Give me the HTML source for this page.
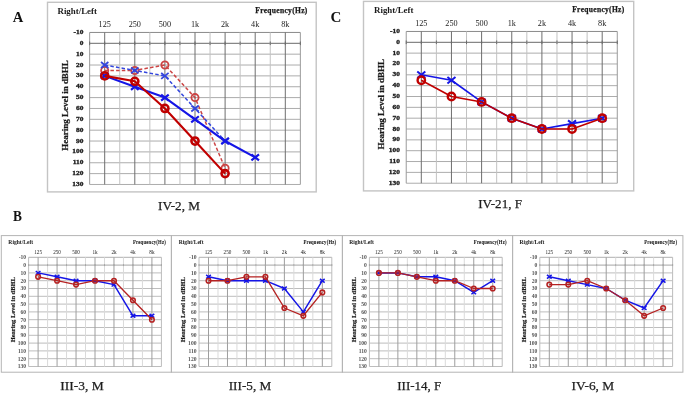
<!DOCTYPE html>
<html><head><meta charset="utf-8"><style>
html,body{margin:0;padding:0;background:#fff;}
body{width:685px;height:394px;overflow:hidden;}
svg{display:block;font-family:"Liberation Serif", serif;filter:blur(0.4px);}
</style></head><body>
<svg width="685" height="394" viewBox="0 0 685 394">
<rect width="685" height="394" fill="#fff"/>
<rect x="47.5" y="2.3" width="268.7" height="189.6" fill="none" stroke="#c4c4c4" stroke-width="1.4"/>
<line x1="89.65" y1="32.44" x2="300.35" y2="32.44" stroke="#8a8a8a" stroke-width="1"/>
<line x1="89.65" y1="43.3" x2="300.35" y2="43.3" stroke="#6a6a6a" stroke-width="1"/>
<line x1="89.65" y1="54.16" x2="300.35" y2="54.16" stroke="#acacac" stroke-width="1"/>
<line x1="89.65" y1="65.02" x2="300.35" y2="65.02" stroke="#acacac" stroke-width="1"/>
<line x1="89.65" y1="75.88" x2="300.35" y2="75.88" stroke="#acacac" stroke-width="1"/>
<line x1="89.65" y1="86.74" x2="300.35" y2="86.74" stroke="#acacac" stroke-width="1"/>
<line x1="89.65" y1="97.6" x2="300.35" y2="97.6" stroke="#acacac" stroke-width="1"/>
<line x1="89.65" y1="108.46" x2="300.35" y2="108.46" stroke="#acacac" stroke-width="1"/>
<line x1="89.65" y1="119.32" x2="300.35" y2="119.32" stroke="#acacac" stroke-width="1"/>
<line x1="89.65" y1="130.18" x2="300.35" y2="130.18" stroke="#acacac" stroke-width="1"/>
<line x1="89.65" y1="141.04" x2="300.35" y2="141.04" stroke="#acacac" stroke-width="1"/>
<line x1="89.65" y1="151.9" x2="300.35" y2="151.9" stroke="#acacac" stroke-width="1"/>
<line x1="89.65" y1="162.76" x2="300.35" y2="162.76" stroke="#acacac" stroke-width="1"/>
<line x1="89.65" y1="173.62" x2="300.35" y2="173.62" stroke="#acacac" stroke-width="1"/>
<line x1="89.65" y1="184.48" x2="300.35" y2="184.48" stroke="#acacac" stroke-width="1"/>
<line x1="89.65" y1="32.44" x2="89.65" y2="184.48" stroke="#9a9a9a" stroke-width="1"/>
<line x1="89.65" y1="41.5" x2="89.65" y2="45.1" stroke="#6a6a6a" stroke-width="1"/>
<line x1="104.7" y1="32.44" x2="104.7" y2="184.48" stroke="#6e6e6e" stroke-width="1"/>
<line x1="104.7" y1="41.5" x2="104.7" y2="45.1" stroke="#6a6a6a" stroke-width="1"/>
<line x1="119.75" y1="32.44" x2="119.75" y2="184.48" stroke="#c2c2c2" stroke-width="1"/>
<line x1="119.75" y1="41.5" x2="119.75" y2="45.1" stroke="#6a6a6a" stroke-width="1"/>
<line x1="134.8" y1="32.44" x2="134.8" y2="184.48" stroke="#6e6e6e" stroke-width="1"/>
<line x1="134.8" y1="41.5" x2="134.8" y2="45.1" stroke="#6a6a6a" stroke-width="1"/>
<line x1="149.85" y1="32.44" x2="149.85" y2="184.48" stroke="#c2c2c2" stroke-width="1"/>
<line x1="149.85" y1="41.5" x2="149.85" y2="45.1" stroke="#6a6a6a" stroke-width="1"/>
<line x1="164.9" y1="32.44" x2="164.9" y2="184.48" stroke="#6e6e6e" stroke-width="1"/>
<line x1="164.9" y1="41.5" x2="164.9" y2="45.1" stroke="#6a6a6a" stroke-width="1"/>
<line x1="179.95" y1="32.44" x2="179.95" y2="184.48" stroke="#c2c2c2" stroke-width="1"/>
<line x1="179.95" y1="41.5" x2="179.95" y2="45.1" stroke="#6a6a6a" stroke-width="1"/>
<line x1="195" y1="32.44" x2="195" y2="184.48" stroke="#6e6e6e" stroke-width="1"/>
<line x1="195" y1="41.5" x2="195" y2="45.1" stroke="#6a6a6a" stroke-width="1"/>
<line x1="210.05" y1="32.44" x2="210.05" y2="184.48" stroke="#c2c2c2" stroke-width="1"/>
<line x1="210.05" y1="41.5" x2="210.05" y2="45.1" stroke="#6a6a6a" stroke-width="1"/>
<line x1="225.1" y1="32.44" x2="225.1" y2="184.48" stroke="#6e6e6e" stroke-width="1"/>
<line x1="225.1" y1="41.5" x2="225.1" y2="45.1" stroke="#6a6a6a" stroke-width="1"/>
<line x1="240.15" y1="32.44" x2="240.15" y2="184.48" stroke="#c2c2c2" stroke-width="1"/>
<line x1="240.15" y1="41.5" x2="240.15" y2="45.1" stroke="#6a6a6a" stroke-width="1"/>
<line x1="255.2" y1="32.44" x2="255.2" y2="184.48" stroke="#6e6e6e" stroke-width="1"/>
<line x1="255.2" y1="41.5" x2="255.2" y2="45.1" stroke="#6a6a6a" stroke-width="1"/>
<line x1="270.25" y1="32.44" x2="270.25" y2="184.48" stroke="#c2c2c2" stroke-width="1"/>
<line x1="270.25" y1="41.5" x2="270.25" y2="45.1" stroke="#6a6a6a" stroke-width="1"/>
<line x1="285.3" y1="32.44" x2="285.3" y2="184.48" stroke="#6e6e6e" stroke-width="1"/>
<line x1="285.3" y1="41.5" x2="285.3" y2="45.1" stroke="#6a6a6a" stroke-width="1"/>
<line x1="300.35" y1="32.44" x2="300.35" y2="184.48" stroke="#9a9a9a" stroke-width="1"/>
<line x1="300.35" y1="41.5" x2="300.35" y2="45.1" stroke="#6a6a6a" stroke-width="1"/>
<text x="0" y="0" font-size="8" font-weight="bold" textLength="39.4" lengthAdjust="spacingAndGlyphs" transform="translate(57.5 13.76) scale(1 1)" fill="#1a1a1a">Right/Left</text>
<text x="0" y="0" font-size="7.5" font-weight="bold" text-anchor="end" textLength="52" lengthAdjust="spacing" transform="translate(307.27 13.33) scale(1 1)" fill="#1a1a1a" stroke="#1a1a1a" stroke-width="0.25">Frequency(Hz)</text>
<text x="0" y="0" font-size="8.2" text-anchor="middle" transform="translate(104.7 27.23) scale(1 1)" fill="#222">125</text>
<text x="0" y="0" font-size="8.2" text-anchor="middle" transform="translate(134.8 27.23) scale(1 1)" fill="#222">250</text>
<text x="0" y="0" font-size="8.2" text-anchor="middle" transform="translate(164.9 27.23) scale(1 1)" fill="#222">500</text>
<text x="0" y="0" font-size="8.2" text-anchor="middle" transform="translate(195 27.23) scale(1 1)" fill="#222">1k</text>
<text x="0" y="0" font-size="8.2" text-anchor="middle" transform="translate(225.1 27.23) scale(1 1)" fill="#222">2k</text>
<text x="0" y="0" font-size="8.2" text-anchor="middle" transform="translate(255.2 27.23) scale(1 1)" fill="#222">4k</text>
<text x="0" y="0" font-size="8.2" text-anchor="middle" transform="translate(285.3 27.23) scale(1 1)" fill="#222">8k</text>
<g transform="translate(83.45 33.94) scale(1 1)"><text x="0" y="0" font-size="6.2" font-weight="bold" text-anchor="end" transform="scale(1.2 1)" fill="#1a1a1a" stroke="#1a1a1a" stroke-width="0.3">-10</text></g>
<g transform="translate(83.45 44.8) scale(1 1)"><text x="0" y="0" font-size="6.2" font-weight="bold" text-anchor="end" transform="scale(1.2 1)" fill="#1a1a1a" stroke="#1a1a1a" stroke-width="0.3">0</text></g>
<g transform="translate(83.45 55.66) scale(1 1)"><text x="0" y="0" font-size="6.2" font-weight="bold" text-anchor="end" transform="scale(1.2 1)" fill="#1a1a1a" stroke="#1a1a1a" stroke-width="0.3">10</text></g>
<g transform="translate(83.45 66.52) scale(1 1)"><text x="0" y="0" font-size="6.2" font-weight="bold" text-anchor="end" transform="scale(1.2 1)" fill="#1a1a1a" stroke="#1a1a1a" stroke-width="0.3">20</text></g>
<g transform="translate(83.45 77.38) scale(1 1)"><text x="0" y="0" font-size="6.2" font-weight="bold" text-anchor="end" transform="scale(1.2 1)" fill="#1a1a1a" stroke="#1a1a1a" stroke-width="0.3">30</text></g>
<g transform="translate(83.45 88.24) scale(1 1)"><text x="0" y="0" font-size="6.2" font-weight="bold" text-anchor="end" transform="scale(1.2 1)" fill="#1a1a1a" stroke="#1a1a1a" stroke-width="0.3">40</text></g>
<g transform="translate(83.45 99.1) scale(1 1)"><text x="0" y="0" font-size="6.2" font-weight="bold" text-anchor="end" transform="scale(1.2 1)" fill="#1a1a1a" stroke="#1a1a1a" stroke-width="0.3">50</text></g>
<g transform="translate(83.45 109.96) scale(1 1)"><text x="0" y="0" font-size="6.2" font-weight="bold" text-anchor="end" transform="scale(1.2 1)" fill="#1a1a1a" stroke="#1a1a1a" stroke-width="0.3">60</text></g>
<g transform="translate(83.45 120.82) scale(1 1)"><text x="0" y="0" font-size="6.2" font-weight="bold" text-anchor="end" transform="scale(1.2 1)" fill="#1a1a1a" stroke="#1a1a1a" stroke-width="0.3">70</text></g>
<g transform="translate(83.45 131.68) scale(1 1)"><text x="0" y="0" font-size="6.2" font-weight="bold" text-anchor="end" transform="scale(1.2 1)" fill="#1a1a1a" stroke="#1a1a1a" stroke-width="0.3">80</text></g>
<g transform="translate(83.45 142.54) scale(1 1)"><text x="0" y="0" font-size="6.2" font-weight="bold" text-anchor="end" transform="scale(1.2 1)" fill="#1a1a1a" stroke="#1a1a1a" stroke-width="0.3">90</text></g>
<g transform="translate(83.45 153.4) scale(1 1)"><text x="0" y="0" font-size="6.2" font-weight="bold" text-anchor="end" transform="scale(1.2 1)" fill="#1a1a1a" stroke="#1a1a1a" stroke-width="0.3">100</text></g>
<g transform="translate(83.45 164.26) scale(1 1)"><text x="0" y="0" font-size="6.2" font-weight="bold" text-anchor="end" transform="scale(1.2 1)" fill="#1a1a1a" stroke="#1a1a1a" stroke-width="0.3">110</text></g>
<g transform="translate(83.45 175.12) scale(1 1)"><text x="0" y="0" font-size="6.2" font-weight="bold" text-anchor="end" transform="scale(1.2 1)" fill="#1a1a1a" stroke="#1a1a1a" stroke-width="0.3">120</text></g>
<g transform="translate(83.45 185.98) scale(1 1)"><text x="0" y="0" font-size="6.2" font-weight="bold" text-anchor="end" transform="scale(1.2 1)" fill="#1a1a1a" stroke="#1a1a1a" stroke-width="0.3">130</text></g>
<text x="0" y="0" font-size="9" font-weight="bold" text-anchor="middle" textLength="90.5" lengthAdjust="spacingAndGlyphs" transform="translate(67.77 105.42) scale(1 1) rotate(-90)" fill="#1a1a1a" stroke="#1a1a1a" stroke-width="0.25">Hearing Level in dBHL</text>
<polyline points="104.7,70.45 134.8,70.45 164.9,65.02 195,97.6 225.1,168.19" fill="none" stroke="#cc4444" stroke-width="1.5" stroke-linejoin="round" stroke-dasharray="3.5 2.2"/>
<circle cx="104.7" cy="70.45" r="3.6" fill="none" stroke="#cc4444" stroke-width="1.8"/>
<circle cx="134.8" cy="70.45" r="3.6" fill="none" stroke="#cc4444" stroke-width="1.8"/>
<circle cx="164.9" cy="65.02" r="3.6" fill="none" stroke="#cc4444" stroke-width="1.8"/>
<circle cx="195" cy="97.6" r="3.6" fill="none" stroke="#cc4444" stroke-width="1.8"/>
<circle cx="225.1" cy="168.19" r="3.6" fill="none" stroke="#cc4444" stroke-width="1.8"/>
<polyline points="104.7,65.02 134.8,70.45 164.9,75.88 195,108.46 225.1,141.04" fill="none" stroke="#3346dd" stroke-width="1.5" stroke-linejoin="round" stroke-dasharray="3.5 2.2"/>
<path d="M101 62.05L108.4 67.99M101 67.99L108.4 62.05" stroke="#3346dd" stroke-width="1.8" fill="none"/>
<path d="M131.1 67.48L138.5 73.42M131.1 73.42L138.5 67.48" stroke="#3346dd" stroke-width="1.8" fill="none"/>
<path d="M161.2 72.91L168.6 78.85M161.2 78.85L168.6 72.91" stroke="#3346dd" stroke-width="1.8" fill="none"/>
<path d="M191.3 105.49L198.7 111.43M191.3 111.43L198.7 105.49" stroke="#3346dd" stroke-width="1.8" fill="none"/>
<path d="M221.4 138.07L228.8 144.01M221.4 144.01L228.8 138.07" stroke="#3346dd" stroke-width="1.8" fill="none"/>
<polyline points="104.7,75.88 134.8,86.74 164.9,97.6 195,119.32 225.1,141.04 255.2,157.33" fill="none" stroke="#1515e6" stroke-width="2.1" stroke-linejoin="round"/>
<path d="M100.89 72.82L108.51 78.94M100.89 78.94L108.51 72.82" stroke="#1515e6" stroke-width="2.2" fill="none"/>
<path d="M130.99 83.68L138.61 89.8M130.99 89.8L138.61 83.68" stroke="#1515e6" stroke-width="2.2" fill="none"/>
<path d="M161.09 94.54L168.71 100.66M161.09 100.66L168.71 94.54" stroke="#1515e6" stroke-width="2.2" fill="none"/>
<path d="M191.19 116.26L198.81 122.38M191.19 122.38L198.81 116.26" stroke="#1515e6" stroke-width="2.2" fill="none"/>
<path d="M221.29 137.98L228.91 144.1M221.29 144.1L228.91 137.98" stroke="#1515e6" stroke-width="2.2" fill="none"/>
<path d="M251.39 154.27L259.01 160.39M251.39 160.39L259.01 154.27" stroke="#1515e6" stroke-width="2.2" fill="none"/>
<polyline points="104.7,75.88 134.8,81.31 164.9,108.46 195,141.04 225.1,173.62" fill="none" stroke="#c00000" stroke-width="2.1" stroke-linejoin="round"/>
<circle cx="104.7" cy="75.88" r="3.6" fill="none" stroke="#c00000" stroke-width="2.5"/>
<circle cx="134.8" cy="81.31" r="3.6" fill="none" stroke="#c00000" stroke-width="2.5"/>
<circle cx="164.9" cy="108.46" r="3.6" fill="none" stroke="#c00000" stroke-width="2.5"/>
<circle cx="195" cy="141.04" r="3.6" fill="none" stroke="#c00000" stroke-width="2.5"/>
<circle cx="225.1" cy="173.62" r="3.6" fill="none" stroke="#c00000" stroke-width="2.5"/>
<rect x="363.5" y="1.4" width="270.2" height="189.5" fill="none" stroke="#c4c4c4" stroke-width="1.4"/>
<line x1="406.23" y1="31.46" x2="617.27" y2="31.46" stroke="#8a8a8a" stroke-width="1"/>
<line x1="406.23" y1="42.3" x2="617.27" y2="42.3" stroke="#6a6a6a" stroke-width="1"/>
<line x1="406.23" y1="53.14" x2="617.27" y2="53.14" stroke="#acacac" stroke-width="1"/>
<line x1="406.23" y1="63.98" x2="617.27" y2="63.98" stroke="#acacac" stroke-width="1"/>
<line x1="406.23" y1="74.82" x2="617.27" y2="74.82" stroke="#acacac" stroke-width="1"/>
<line x1="406.23" y1="85.66" x2="617.27" y2="85.66" stroke="#acacac" stroke-width="1"/>
<line x1="406.23" y1="96.5" x2="617.27" y2="96.5" stroke="#acacac" stroke-width="1"/>
<line x1="406.23" y1="107.34" x2="617.27" y2="107.34" stroke="#acacac" stroke-width="1"/>
<line x1="406.23" y1="118.18" x2="617.27" y2="118.18" stroke="#acacac" stroke-width="1"/>
<line x1="406.23" y1="129.02" x2="617.27" y2="129.02" stroke="#acacac" stroke-width="1"/>
<line x1="406.23" y1="139.86" x2="617.27" y2="139.86" stroke="#acacac" stroke-width="1"/>
<line x1="406.23" y1="150.7" x2="617.27" y2="150.7" stroke="#acacac" stroke-width="1"/>
<line x1="406.23" y1="161.54" x2="617.27" y2="161.54" stroke="#acacac" stroke-width="1"/>
<line x1="406.23" y1="172.38" x2="617.27" y2="172.38" stroke="#acacac" stroke-width="1"/>
<line x1="406.23" y1="183.22" x2="617.27" y2="183.22" stroke="#acacac" stroke-width="1"/>
<line x1="406.23" y1="31.46" x2="406.23" y2="183.22" stroke="#9a9a9a" stroke-width="1"/>
<line x1="406.23" y1="40.5" x2="406.23" y2="44.1" stroke="#6a6a6a" stroke-width="1"/>
<line x1="421.3" y1="31.46" x2="421.3" y2="183.22" stroke="#6e6e6e" stroke-width="1"/>
<line x1="421.3" y1="40.5" x2="421.3" y2="44.1" stroke="#6a6a6a" stroke-width="1"/>
<line x1="436.38" y1="31.46" x2="436.38" y2="183.22" stroke="#c2c2c2" stroke-width="1"/>
<line x1="436.38" y1="40.5" x2="436.38" y2="44.1" stroke="#6a6a6a" stroke-width="1"/>
<line x1="451.45" y1="31.46" x2="451.45" y2="183.22" stroke="#6e6e6e" stroke-width="1"/>
<line x1="451.45" y1="40.5" x2="451.45" y2="44.1" stroke="#6a6a6a" stroke-width="1"/>
<line x1="466.52" y1="31.46" x2="466.52" y2="183.22" stroke="#c2c2c2" stroke-width="1"/>
<line x1="466.52" y1="40.5" x2="466.52" y2="44.1" stroke="#6a6a6a" stroke-width="1"/>
<line x1="481.6" y1="31.46" x2="481.6" y2="183.22" stroke="#6e6e6e" stroke-width="1"/>
<line x1="481.6" y1="40.5" x2="481.6" y2="44.1" stroke="#6a6a6a" stroke-width="1"/>
<line x1="496.68" y1="31.46" x2="496.68" y2="183.22" stroke="#c2c2c2" stroke-width="1"/>
<line x1="496.68" y1="40.5" x2="496.68" y2="44.1" stroke="#6a6a6a" stroke-width="1"/>
<line x1="511.75" y1="31.46" x2="511.75" y2="183.22" stroke="#6e6e6e" stroke-width="1"/>
<line x1="511.75" y1="40.5" x2="511.75" y2="44.1" stroke="#6a6a6a" stroke-width="1"/>
<line x1="526.83" y1="31.46" x2="526.83" y2="183.22" stroke="#c2c2c2" stroke-width="1"/>
<line x1="526.83" y1="40.5" x2="526.83" y2="44.1" stroke="#6a6a6a" stroke-width="1"/>
<line x1="541.9" y1="31.46" x2="541.9" y2="183.22" stroke="#6e6e6e" stroke-width="1"/>
<line x1="541.9" y1="40.5" x2="541.9" y2="44.1" stroke="#6a6a6a" stroke-width="1"/>
<line x1="556.98" y1="31.46" x2="556.98" y2="183.22" stroke="#c2c2c2" stroke-width="1"/>
<line x1="556.98" y1="40.5" x2="556.98" y2="44.1" stroke="#6a6a6a" stroke-width="1"/>
<line x1="572.05" y1="31.46" x2="572.05" y2="183.22" stroke="#6e6e6e" stroke-width="1"/>
<line x1="572.05" y1="40.5" x2="572.05" y2="44.1" stroke="#6a6a6a" stroke-width="1"/>
<line x1="587.12" y1="31.46" x2="587.12" y2="183.22" stroke="#c2c2c2" stroke-width="1"/>
<line x1="587.12" y1="40.5" x2="587.12" y2="44.1" stroke="#6a6a6a" stroke-width="1"/>
<line x1="602.2" y1="31.46" x2="602.2" y2="183.22" stroke="#6e6e6e" stroke-width="1"/>
<line x1="602.2" y1="40.5" x2="602.2" y2="44.1" stroke="#6a6a6a" stroke-width="1"/>
<line x1="617.27" y1="31.46" x2="617.27" y2="183.22" stroke="#9a9a9a" stroke-width="1"/>
<line x1="617.27" y1="40.5" x2="617.27" y2="44.1" stroke="#6a6a6a" stroke-width="1"/>
<text x="0" y="0" font-size="8" font-weight="bold" textLength="39.4" lengthAdjust="spacingAndGlyphs" transform="translate(374.02 12.82) scale(1 1)" fill="#1a1a1a">Right/Left</text>
<text x="0" y="0" font-size="7.5" font-weight="bold" text-anchor="end" textLength="52" lengthAdjust="spacing" transform="translate(624.21 12.38) scale(1 1)" fill="#1a1a1a" stroke="#1a1a1a" stroke-width="0.25">Frequency(Hz)</text>
<text x="0" y="0" font-size="8.2" text-anchor="middle" transform="translate(421.3 26.26) scale(1 1)" fill="#222">125</text>
<text x="0" y="0" font-size="8.2" text-anchor="middle" transform="translate(451.45 26.26) scale(1 1)" fill="#222">250</text>
<text x="0" y="0" font-size="8.2" text-anchor="middle" transform="translate(481.6 26.26) scale(1 1)" fill="#222">500</text>
<text x="0" y="0" font-size="8.2" text-anchor="middle" transform="translate(511.75 26.26) scale(1 1)" fill="#222">1k</text>
<text x="0" y="0" font-size="8.2" text-anchor="middle" transform="translate(541.9 26.26) scale(1 1)" fill="#222">2k</text>
<text x="0" y="0" font-size="8.2" text-anchor="middle" transform="translate(572.05 26.26) scale(1 1)" fill="#222">4k</text>
<text x="0" y="0" font-size="8.2" text-anchor="middle" transform="translate(602.2 26.26) scale(1 1)" fill="#222">8k</text>
<g transform="translate(400.01 32.96) scale(1 1)"><text x="0" y="0" font-size="6.2" font-weight="bold" text-anchor="end" transform="scale(1.2 1)" fill="#1a1a1a" stroke="#1a1a1a" stroke-width="0.3">-10</text></g>
<g transform="translate(400.01 43.8) scale(1 1)"><text x="0" y="0" font-size="6.2" font-weight="bold" text-anchor="end" transform="scale(1.2 1)" fill="#1a1a1a" stroke="#1a1a1a" stroke-width="0.3">0</text></g>
<g transform="translate(400.01 54.64) scale(1 1)"><text x="0" y="0" font-size="6.2" font-weight="bold" text-anchor="end" transform="scale(1.2 1)" fill="#1a1a1a" stroke="#1a1a1a" stroke-width="0.3">10</text></g>
<g transform="translate(400.01 65.48) scale(1 1)"><text x="0" y="0" font-size="6.2" font-weight="bold" text-anchor="end" transform="scale(1.2 1)" fill="#1a1a1a" stroke="#1a1a1a" stroke-width="0.3">20</text></g>
<g transform="translate(400.01 76.32) scale(1 1)"><text x="0" y="0" font-size="6.2" font-weight="bold" text-anchor="end" transform="scale(1.2 1)" fill="#1a1a1a" stroke="#1a1a1a" stroke-width="0.3">30</text></g>
<g transform="translate(400.01 87.16) scale(1 1)"><text x="0" y="0" font-size="6.2" font-weight="bold" text-anchor="end" transform="scale(1.2 1)" fill="#1a1a1a" stroke="#1a1a1a" stroke-width="0.3">40</text></g>
<g transform="translate(400.01 98) scale(1 1)"><text x="0" y="0" font-size="6.2" font-weight="bold" text-anchor="end" transform="scale(1.2 1)" fill="#1a1a1a" stroke="#1a1a1a" stroke-width="0.3">50</text></g>
<g transform="translate(400.01 108.84) scale(1 1)"><text x="0" y="0" font-size="6.2" font-weight="bold" text-anchor="end" transform="scale(1.2 1)" fill="#1a1a1a" stroke="#1a1a1a" stroke-width="0.3">60</text></g>
<g transform="translate(400.01 119.68) scale(1 1)"><text x="0" y="0" font-size="6.2" font-weight="bold" text-anchor="end" transform="scale(1.2 1)" fill="#1a1a1a" stroke="#1a1a1a" stroke-width="0.3">70</text></g>
<g transform="translate(400.01 130.52) scale(1 1)"><text x="0" y="0" font-size="6.2" font-weight="bold" text-anchor="end" transform="scale(1.2 1)" fill="#1a1a1a" stroke="#1a1a1a" stroke-width="0.3">80</text></g>
<g transform="translate(400.01 141.36) scale(1 1)"><text x="0" y="0" font-size="6.2" font-weight="bold" text-anchor="end" transform="scale(1.2 1)" fill="#1a1a1a" stroke="#1a1a1a" stroke-width="0.3">90</text></g>
<g transform="translate(400.01 152.2) scale(1 1)"><text x="0" y="0" font-size="6.2" font-weight="bold" text-anchor="end" transform="scale(1.2 1)" fill="#1a1a1a" stroke="#1a1a1a" stroke-width="0.3">100</text></g>
<g transform="translate(400.01 163.04) scale(1 1)"><text x="0" y="0" font-size="6.2" font-weight="bold" text-anchor="end" transform="scale(1.2 1)" fill="#1a1a1a" stroke="#1a1a1a" stroke-width="0.3">110</text></g>
<g transform="translate(400.01 173.88) scale(1 1)"><text x="0" y="0" font-size="6.2" font-weight="bold" text-anchor="end" transform="scale(1.2 1)" fill="#1a1a1a" stroke="#1a1a1a" stroke-width="0.3">120</text></g>
<g transform="translate(400.01 184.72) scale(1 1)"><text x="0" y="0" font-size="6.2" font-weight="bold" text-anchor="end" transform="scale(1.2 1)" fill="#1a1a1a" stroke="#1a1a1a" stroke-width="0.3">130</text></g>
<text x="0" y="0" font-size="9" font-weight="bold" text-anchor="middle" textLength="90.5" lengthAdjust="spacingAndGlyphs" transform="translate(384.31 104.3) scale(1 1) rotate(-90)" fill="#1a1a1a" stroke="#1a1a1a" stroke-width="0.25">Hearing Level in dBHL</text>
<polyline points="421.3,74.82 451.45,80.24 481.6,101.92 511.75,118.18 541.9,129.02 572.05,123.6 602.2,118.18" fill="none" stroke="#1515e6" stroke-width="1.6" stroke-linejoin="round"/>
<path d="M417.27 71.58L425.33 78.06M417.27 78.06L425.33 71.58" stroke="#1515e6" stroke-width="2" fill="none"/>
<path d="M447.42 77L455.48 83.48M447.42 83.48L455.48 77" stroke="#1515e6" stroke-width="2" fill="none"/>
<path d="M477.57 98.68L485.63 105.16M477.57 105.16L485.63 98.68" stroke="#1515e6" stroke-width="2" fill="none"/>
<path d="M507.72 114.94L515.78 121.42M507.72 121.42L515.78 114.94" stroke="#1515e6" stroke-width="2" fill="none"/>
<path d="M537.87 125.78L545.93 132.26M537.87 132.26L545.93 125.78" stroke="#1515e6" stroke-width="2" fill="none"/>
<path d="M568.02 120.36L576.08 126.84M568.02 126.84L576.08 120.36" stroke="#1515e6" stroke-width="2" fill="none"/>
<path d="M598.17 114.94L606.23 121.42M598.17 121.42L606.23 114.94" stroke="#1515e6" stroke-width="2" fill="none"/>
<polyline points="421.3,80.24 451.45,96.5 481.6,101.92 511.75,118.18 541.9,129.02 572.05,129.02 602.2,118.18" fill="none" stroke="#c00000" stroke-width="1.6" stroke-linejoin="round"/>
<circle cx="421.3" cy="80.24" r="3.7" fill="none" stroke="#c00000" stroke-width="2.4"/>
<circle cx="451.45" cy="96.5" r="3.7" fill="none" stroke="#c00000" stroke-width="2.4"/>
<circle cx="481.6" cy="101.92" r="3.7" fill="none" stroke="#c00000" stroke-width="2.4"/>
<circle cx="511.75" cy="118.18" r="3.7" fill="none" stroke="#c00000" stroke-width="2.4"/>
<circle cx="541.9" cy="129.02" r="3.7" fill="none" stroke="#c00000" stroke-width="2.4"/>
<circle cx="572.05" cy="129.02" r="3.7" fill="none" stroke="#c00000" stroke-width="2.4"/>
<circle cx="602.2" cy="118.18" r="3.7" fill="none" stroke="#c00000" stroke-width="2.4"/>
<rect x="1.3" y="235.6" width="170.1" height="136.6" fill="none" stroke="#b4b4b4" stroke-width="1"/>
<line x1="28.62" y1="257.3" x2="161.41" y2="257.3" stroke="#b0b0b0" stroke-width="1"/>
<line x1="28.62" y1="265.1" x2="161.41" y2="265.1" stroke="#a4a4a4" stroke-width="1"/>
<line x1="28.62" y1="272.9" x2="161.41" y2="272.9" stroke="#bdbdbd" stroke-width="1"/>
<line x1="28.62" y1="280.7" x2="161.41" y2="280.7" stroke="#bdbdbd" stroke-width="1"/>
<line x1="28.62" y1="288.5" x2="161.41" y2="288.5" stroke="#bdbdbd" stroke-width="1"/>
<line x1="28.62" y1="296.3" x2="161.41" y2="296.3" stroke="#bdbdbd" stroke-width="1"/>
<line x1="28.62" y1="304.1" x2="161.41" y2="304.1" stroke="#bdbdbd" stroke-width="1"/>
<line x1="28.62" y1="311.9" x2="161.41" y2="311.9" stroke="#bdbdbd" stroke-width="1"/>
<line x1="28.62" y1="319.7" x2="161.41" y2="319.7" stroke="#bdbdbd" stroke-width="1"/>
<line x1="28.62" y1="327.5" x2="161.41" y2="327.5" stroke="#bdbdbd" stroke-width="1"/>
<line x1="28.62" y1="335.3" x2="161.41" y2="335.3" stroke="#bdbdbd" stroke-width="1"/>
<line x1="28.62" y1="343.1" x2="161.41" y2="343.1" stroke="#bdbdbd" stroke-width="1"/>
<line x1="28.62" y1="350.9" x2="161.41" y2="350.9" stroke="#bdbdbd" stroke-width="1"/>
<line x1="28.62" y1="358.7" x2="161.41" y2="358.7" stroke="#bdbdbd" stroke-width="1"/>
<line x1="28.62" y1="366.5" x2="161.41" y2="366.5" stroke="#bdbdbd" stroke-width="1"/>
<line x1="28.62" y1="257.3" x2="28.62" y2="366.5" stroke="#bcbcbc" stroke-width="1"/>
<line x1="28.62" y1="264.1" x2="28.62" y2="266.1" stroke="#a4a4a4" stroke-width="1"/>
<line x1="38.1" y1="257.3" x2="38.1" y2="366.5" stroke="#9e9e9e" stroke-width="1"/>
<line x1="38.1" y1="264.1" x2="38.1" y2="266.1" stroke="#a4a4a4" stroke-width="1"/>
<line x1="47.59" y1="257.3" x2="47.59" y2="366.5" stroke="#dadada" stroke-width="1"/>
<line x1="47.59" y1="264.1" x2="47.59" y2="266.1" stroke="#a4a4a4" stroke-width="1"/>
<line x1="57.07" y1="257.3" x2="57.07" y2="366.5" stroke="#9e9e9e" stroke-width="1"/>
<line x1="57.07" y1="264.1" x2="57.07" y2="266.1" stroke="#a4a4a4" stroke-width="1"/>
<line x1="66.56" y1="257.3" x2="66.56" y2="366.5" stroke="#dadada" stroke-width="1"/>
<line x1="66.56" y1="264.1" x2="66.56" y2="266.1" stroke="#a4a4a4" stroke-width="1"/>
<line x1="76.04" y1="257.3" x2="76.04" y2="366.5" stroke="#9e9e9e" stroke-width="1"/>
<line x1="76.04" y1="264.1" x2="76.04" y2="266.1" stroke="#a4a4a4" stroke-width="1"/>
<line x1="85.53" y1="257.3" x2="85.53" y2="366.5" stroke="#dadada" stroke-width="1"/>
<line x1="85.53" y1="264.1" x2="85.53" y2="266.1" stroke="#a4a4a4" stroke-width="1"/>
<line x1="95.01" y1="257.3" x2="95.01" y2="366.5" stroke="#9e9e9e" stroke-width="1"/>
<line x1="95.01" y1="264.1" x2="95.01" y2="266.1" stroke="#a4a4a4" stroke-width="1"/>
<line x1="104.5" y1="257.3" x2="104.5" y2="366.5" stroke="#dadada" stroke-width="1"/>
<line x1="104.5" y1="264.1" x2="104.5" y2="266.1" stroke="#a4a4a4" stroke-width="1"/>
<line x1="113.98" y1="257.3" x2="113.98" y2="366.5" stroke="#9e9e9e" stroke-width="1"/>
<line x1="113.98" y1="264.1" x2="113.98" y2="266.1" stroke="#a4a4a4" stroke-width="1"/>
<line x1="123.47" y1="257.3" x2="123.47" y2="366.5" stroke="#dadada" stroke-width="1"/>
<line x1="123.47" y1="264.1" x2="123.47" y2="266.1" stroke="#a4a4a4" stroke-width="1"/>
<line x1="132.95" y1="257.3" x2="132.95" y2="366.5" stroke="#9e9e9e" stroke-width="1"/>
<line x1="132.95" y1="264.1" x2="132.95" y2="266.1" stroke="#a4a4a4" stroke-width="1"/>
<line x1="142.44" y1="257.3" x2="142.44" y2="366.5" stroke="#dadada" stroke-width="1"/>
<line x1="142.44" y1="264.1" x2="142.44" y2="266.1" stroke="#a4a4a4" stroke-width="1"/>
<line x1="151.92" y1="257.3" x2="151.92" y2="366.5" stroke="#9e9e9e" stroke-width="1"/>
<line x1="151.92" y1="264.1" x2="151.92" y2="266.1" stroke="#a4a4a4" stroke-width="1"/>
<line x1="161.41" y1="257.3" x2="161.41" y2="366.5" stroke="#bcbcbc" stroke-width="1"/>
<line x1="161.41" y1="264.1" x2="161.41" y2="266.1" stroke="#a4a4a4" stroke-width="1"/>
<text x="0" y="0" font-size="8" font-weight="bold" textLength="39.4" lengthAdjust="spacingAndGlyphs" transform="translate(8.36 243.88) scale(0.63 0.72)" fill="#1a1a1a">Right/Left</text>
<text x="0" y="0" font-size="7.5" font-weight="bold" text-anchor="end" textLength="52" lengthAdjust="spacing" transform="translate(165.77 243.57) scale(0.63 0.72)" fill="#1a1a1a" stroke="#1a1a1a" stroke-width="0.1">Frequency(Hz)</text>
<text x="0" y="0" font-size="8.2" text-anchor="middle" transform="translate(38.1 253.56) scale(0.63 0.72)" fill="#222">125</text>
<text x="0" y="0" font-size="8.2" text-anchor="middle" transform="translate(57.07 253.56) scale(0.63 0.72)" fill="#222">250</text>
<text x="0" y="0" font-size="8.2" text-anchor="middle" transform="translate(76.04 253.56) scale(0.63 0.72)" fill="#222">500</text>
<text x="0" y="0" font-size="8.2" text-anchor="middle" transform="translate(95.01 253.56) scale(0.63 0.72)" fill="#222">1k</text>
<text x="0" y="0" font-size="8.2" text-anchor="middle" transform="translate(113.98 253.56) scale(0.63 0.72)" fill="#222">2k</text>
<text x="0" y="0" font-size="8.2" text-anchor="middle" transform="translate(132.95 253.56) scale(0.63 0.72)" fill="#222">4k</text>
<text x="0" y="0" font-size="8.2" text-anchor="middle" transform="translate(151.92 253.56) scale(0.63 0.72)" fill="#222">8k</text>
<g transform="translate(26.12 259.28) scale(0.63 0.72)"><text x="0" y="0" font-size="7.44" font-weight="bold" text-anchor="end" transform="scale(1.2 1)" fill="#555" stroke="#555" stroke-width="0">-10</text></g>
<g transform="translate(26.12 267.08) scale(0.63 0.72)"><text x="0" y="0" font-size="7.44" font-weight="bold" text-anchor="end" transform="scale(1.2 1)" fill="#555" stroke="#555" stroke-width="0">0</text></g>
<g transform="translate(26.12 274.88) scale(0.63 0.72)"><text x="0" y="0" font-size="7.44" font-weight="bold" text-anchor="end" transform="scale(1.2 1)" fill="#555" stroke="#555" stroke-width="0">10</text></g>
<g transform="translate(26.12 282.68) scale(0.63 0.72)"><text x="0" y="0" font-size="7.44" font-weight="bold" text-anchor="end" transform="scale(1.2 1)" fill="#555" stroke="#555" stroke-width="0">20</text></g>
<g transform="translate(26.12 290.48) scale(0.63 0.72)"><text x="0" y="0" font-size="7.44" font-weight="bold" text-anchor="end" transform="scale(1.2 1)" fill="#555" stroke="#555" stroke-width="0">30</text></g>
<g transform="translate(26.12 298.28) scale(0.63 0.72)"><text x="0" y="0" font-size="7.44" font-weight="bold" text-anchor="end" transform="scale(1.2 1)" fill="#555" stroke="#555" stroke-width="0">40</text></g>
<g transform="translate(26.12 306.08) scale(0.63 0.72)"><text x="0" y="0" font-size="7.44" font-weight="bold" text-anchor="end" transform="scale(1.2 1)" fill="#555" stroke="#555" stroke-width="0">50</text></g>
<g transform="translate(26.12 313.88) scale(0.63 0.72)"><text x="0" y="0" font-size="7.44" font-weight="bold" text-anchor="end" transform="scale(1.2 1)" fill="#555" stroke="#555" stroke-width="0">60</text></g>
<g transform="translate(26.12 321.68) scale(0.63 0.72)"><text x="0" y="0" font-size="7.44" font-weight="bold" text-anchor="end" transform="scale(1.2 1)" fill="#555" stroke="#555" stroke-width="0">70</text></g>
<g transform="translate(26.12 329.48) scale(0.63 0.72)"><text x="0" y="0" font-size="7.44" font-weight="bold" text-anchor="end" transform="scale(1.2 1)" fill="#555" stroke="#555" stroke-width="0">80</text></g>
<g transform="translate(26.12 337.28) scale(0.63 0.72)"><text x="0" y="0" font-size="7.44" font-weight="bold" text-anchor="end" transform="scale(1.2 1)" fill="#555" stroke="#555" stroke-width="0">90</text></g>
<g transform="translate(26.12 345.08) scale(0.63 0.72)"><text x="0" y="0" font-size="7.44" font-weight="bold" text-anchor="end" transform="scale(1.2 1)" fill="#555" stroke="#555" stroke-width="0">100</text></g>
<g transform="translate(26.12 352.88) scale(0.63 0.72)"><text x="0" y="0" font-size="7.44" font-weight="bold" text-anchor="end" transform="scale(1.2 1)" fill="#555" stroke="#555" stroke-width="0">110</text></g>
<g transform="translate(26.12 360.68) scale(0.63 0.72)"><text x="0" y="0" font-size="7.44" font-weight="bold" text-anchor="end" transform="scale(1.2 1)" fill="#555" stroke="#555" stroke-width="0">120</text></g>
<g transform="translate(26.12 368.48) scale(0.63 0.72)"><text x="0" y="0" font-size="7.44" font-weight="bold" text-anchor="end" transform="scale(1.2 1)" fill="#555" stroke="#555" stroke-width="0">130</text></g>
<text x="0" y="0" font-size="9" font-weight="bold" text-anchor="middle" textLength="90.5" lengthAdjust="spacingAndGlyphs" transform="translate(14.93 309.72) scale(0.63 0.72) rotate(-90)" fill="#1a1a1a" stroke="#1a1a1a" stroke-width="0.25">Hearing Level in dBHL</text>
<polyline points="38.1,272.9 57.07,276.8 76.04,280.7 95.01,280.7 113.98,284.6 132.95,315.8 151.92,315.8" fill="none" stroke="#1515e6" stroke-width="1.45" stroke-linejoin="round"/>
<path d="M35.75 271.01L40.45 274.79M35.75 274.79L40.45 271.01" stroke="#1515e6" stroke-width="1.5" fill="none"/>
<path d="M54.72 274.91L59.42 278.69M54.72 278.69L59.42 274.91" stroke="#1515e6" stroke-width="1.5" fill="none"/>
<path d="M73.69 278.81L78.39 282.59M73.69 282.59L78.39 278.81" stroke="#1515e6" stroke-width="1.5" fill="none"/>
<path d="M92.66 278.81L97.36 282.59M92.66 282.59L97.36 278.81" stroke="#1515e6" stroke-width="1.5" fill="none"/>
<path d="M111.63 282.71L116.33 286.49M111.63 286.49L116.33 282.71" stroke="#1515e6" stroke-width="1.5" fill="none"/>
<path d="M130.6 313.91L135.3 317.69M130.6 317.69L135.3 313.91" stroke="#1515e6" stroke-width="1.5" fill="none"/>
<path d="M149.57 313.91L154.27 317.69M149.57 317.69L154.27 313.91" stroke="#1515e6" stroke-width="1.5" fill="none"/>
<polyline points="38.1,276.8 57.07,280.7 76.04,284.6 95.01,280.7 113.98,280.7 132.95,300.2 151.92,319.7" fill="none" stroke="#b52222" stroke-width="1.35" stroke-linejoin="round"/>
<circle cx="38.1" cy="276.8" r="2.3" fill="none" stroke="#b52222" stroke-width="1.55"/>
<circle cx="57.07" cy="280.7" r="2.3" fill="none" stroke="#b52222" stroke-width="1.55"/>
<circle cx="76.04" cy="284.6" r="2.3" fill="none" stroke="#b52222" stroke-width="1.55"/>
<circle cx="95.01" cy="280.7" r="2.3" fill="none" stroke="#b52222" stroke-width="1.55"/>
<circle cx="113.98" cy="280.7" r="2.3" fill="none" stroke="#b52222" stroke-width="1.55"/>
<circle cx="132.95" cy="300.2" r="2.3" fill="none" stroke="#b52222" stroke-width="1.55"/>
<circle cx="151.92" cy="319.7" r="2.3" fill="none" stroke="#b52222" stroke-width="1.55"/>
<rect x="171.4" y="235.6" width="171" height="136.6" fill="none" stroke="#b4b4b4" stroke-width="1"/>
<line x1="199.01" y1="257.3" x2="331.81" y2="257.3" stroke="#b0b0b0" stroke-width="1"/>
<line x1="199.01" y1="265.1" x2="331.81" y2="265.1" stroke="#a4a4a4" stroke-width="1"/>
<line x1="199.01" y1="272.9" x2="331.81" y2="272.9" stroke="#bdbdbd" stroke-width="1"/>
<line x1="199.01" y1="280.7" x2="331.81" y2="280.7" stroke="#bdbdbd" stroke-width="1"/>
<line x1="199.01" y1="288.5" x2="331.81" y2="288.5" stroke="#bdbdbd" stroke-width="1"/>
<line x1="199.01" y1="296.3" x2="331.81" y2="296.3" stroke="#bdbdbd" stroke-width="1"/>
<line x1="199.01" y1="304.1" x2="331.81" y2="304.1" stroke="#bdbdbd" stroke-width="1"/>
<line x1="199.01" y1="311.9" x2="331.81" y2="311.9" stroke="#bdbdbd" stroke-width="1"/>
<line x1="199.01" y1="319.7" x2="331.81" y2="319.7" stroke="#bdbdbd" stroke-width="1"/>
<line x1="199.01" y1="327.5" x2="331.81" y2="327.5" stroke="#bdbdbd" stroke-width="1"/>
<line x1="199.01" y1="335.3" x2="331.81" y2="335.3" stroke="#bdbdbd" stroke-width="1"/>
<line x1="199.01" y1="343.1" x2="331.81" y2="343.1" stroke="#bdbdbd" stroke-width="1"/>
<line x1="199.01" y1="350.9" x2="331.81" y2="350.9" stroke="#bdbdbd" stroke-width="1"/>
<line x1="199.01" y1="358.7" x2="331.81" y2="358.7" stroke="#bdbdbd" stroke-width="1"/>
<line x1="199.01" y1="366.5" x2="331.81" y2="366.5" stroke="#bdbdbd" stroke-width="1"/>
<line x1="199.01" y1="257.3" x2="199.01" y2="366.5" stroke="#bcbcbc" stroke-width="1"/>
<line x1="199.01" y1="264.1" x2="199.01" y2="266.1" stroke="#a4a4a4" stroke-width="1"/>
<line x1="208.5" y1="257.3" x2="208.5" y2="366.5" stroke="#9e9e9e" stroke-width="1"/>
<line x1="208.5" y1="264.1" x2="208.5" y2="266.1" stroke="#a4a4a4" stroke-width="1"/>
<line x1="217.99" y1="257.3" x2="217.99" y2="366.5" stroke="#dadada" stroke-width="1"/>
<line x1="217.99" y1="264.1" x2="217.99" y2="266.1" stroke="#a4a4a4" stroke-width="1"/>
<line x1="227.47" y1="257.3" x2="227.47" y2="366.5" stroke="#9e9e9e" stroke-width="1"/>
<line x1="227.47" y1="264.1" x2="227.47" y2="266.1" stroke="#a4a4a4" stroke-width="1"/>
<line x1="236.95" y1="257.3" x2="236.95" y2="366.5" stroke="#dadada" stroke-width="1"/>
<line x1="236.95" y1="264.1" x2="236.95" y2="266.1" stroke="#a4a4a4" stroke-width="1"/>
<line x1="246.44" y1="257.3" x2="246.44" y2="366.5" stroke="#9e9e9e" stroke-width="1"/>
<line x1="246.44" y1="264.1" x2="246.44" y2="266.1" stroke="#a4a4a4" stroke-width="1"/>
<line x1="255.93" y1="257.3" x2="255.93" y2="366.5" stroke="#dadada" stroke-width="1"/>
<line x1="255.93" y1="264.1" x2="255.93" y2="266.1" stroke="#a4a4a4" stroke-width="1"/>
<line x1="265.41" y1="257.3" x2="265.41" y2="366.5" stroke="#9e9e9e" stroke-width="1"/>
<line x1="265.41" y1="264.1" x2="265.41" y2="266.1" stroke="#a4a4a4" stroke-width="1"/>
<line x1="274.89" y1="257.3" x2="274.89" y2="366.5" stroke="#dadada" stroke-width="1"/>
<line x1="274.89" y1="264.1" x2="274.89" y2="266.1" stroke="#a4a4a4" stroke-width="1"/>
<line x1="284.38" y1="257.3" x2="284.38" y2="366.5" stroke="#9e9e9e" stroke-width="1"/>
<line x1="284.38" y1="264.1" x2="284.38" y2="266.1" stroke="#a4a4a4" stroke-width="1"/>
<line x1="293.87" y1="257.3" x2="293.87" y2="366.5" stroke="#dadada" stroke-width="1"/>
<line x1="293.87" y1="264.1" x2="293.87" y2="266.1" stroke="#a4a4a4" stroke-width="1"/>
<line x1="303.35" y1="257.3" x2="303.35" y2="366.5" stroke="#9e9e9e" stroke-width="1"/>
<line x1="303.35" y1="264.1" x2="303.35" y2="266.1" stroke="#a4a4a4" stroke-width="1"/>
<line x1="312.83" y1="257.3" x2="312.83" y2="366.5" stroke="#dadada" stroke-width="1"/>
<line x1="312.83" y1="264.1" x2="312.83" y2="266.1" stroke="#a4a4a4" stroke-width="1"/>
<line x1="322.32" y1="257.3" x2="322.32" y2="366.5" stroke="#9e9e9e" stroke-width="1"/>
<line x1="322.32" y1="264.1" x2="322.32" y2="266.1" stroke="#a4a4a4" stroke-width="1"/>
<line x1="331.81" y1="257.3" x2="331.81" y2="366.5" stroke="#bcbcbc" stroke-width="1"/>
<line x1="331.81" y1="264.1" x2="331.81" y2="266.1" stroke="#a4a4a4" stroke-width="1"/>
<text x="0" y="0" font-size="8" font-weight="bold" textLength="39.4" lengthAdjust="spacingAndGlyphs" transform="translate(178.76 243.88) scale(0.63 0.72)" fill="#1a1a1a">Right/Left</text>
<text x="0" y="0" font-size="7.5" font-weight="bold" text-anchor="end" textLength="52" lengthAdjust="spacing" transform="translate(336.17 243.57) scale(0.63 0.72)" fill="#1a1a1a" stroke="#1a1a1a" stroke-width="0.1">Frequency(Hz)</text>
<text x="0" y="0" font-size="8.2" text-anchor="middle" transform="translate(208.5 253.56) scale(0.63 0.72)" fill="#222">125</text>
<text x="0" y="0" font-size="8.2" text-anchor="middle" transform="translate(227.47 253.56) scale(0.63 0.72)" fill="#222">250</text>
<text x="0" y="0" font-size="8.2" text-anchor="middle" transform="translate(246.44 253.56) scale(0.63 0.72)" fill="#222">500</text>
<text x="0" y="0" font-size="8.2" text-anchor="middle" transform="translate(265.41 253.56) scale(0.63 0.72)" fill="#222">1k</text>
<text x="0" y="0" font-size="8.2" text-anchor="middle" transform="translate(284.38 253.56) scale(0.63 0.72)" fill="#222">2k</text>
<text x="0" y="0" font-size="8.2" text-anchor="middle" transform="translate(303.35 253.56) scale(0.63 0.72)" fill="#222">4k</text>
<text x="0" y="0" font-size="8.2" text-anchor="middle" transform="translate(322.32 253.56) scale(0.63 0.72)" fill="#222">8k</text>
<g transform="translate(196.51 259.28) scale(0.63 0.72)"><text x="0" y="0" font-size="7.44" font-weight="bold" text-anchor="end" transform="scale(1.2 1)" fill="#555" stroke="#555" stroke-width="0">-10</text></g>
<g transform="translate(196.51 267.08) scale(0.63 0.72)"><text x="0" y="0" font-size="7.44" font-weight="bold" text-anchor="end" transform="scale(1.2 1)" fill="#555" stroke="#555" stroke-width="0">0</text></g>
<g transform="translate(196.51 274.88) scale(0.63 0.72)"><text x="0" y="0" font-size="7.44" font-weight="bold" text-anchor="end" transform="scale(1.2 1)" fill="#555" stroke="#555" stroke-width="0">10</text></g>
<g transform="translate(196.51 282.68) scale(0.63 0.72)"><text x="0" y="0" font-size="7.44" font-weight="bold" text-anchor="end" transform="scale(1.2 1)" fill="#555" stroke="#555" stroke-width="0">20</text></g>
<g transform="translate(196.51 290.48) scale(0.63 0.72)"><text x="0" y="0" font-size="7.44" font-weight="bold" text-anchor="end" transform="scale(1.2 1)" fill="#555" stroke="#555" stroke-width="0">30</text></g>
<g transform="translate(196.51 298.28) scale(0.63 0.72)"><text x="0" y="0" font-size="7.44" font-weight="bold" text-anchor="end" transform="scale(1.2 1)" fill="#555" stroke="#555" stroke-width="0">40</text></g>
<g transform="translate(196.51 306.08) scale(0.63 0.72)"><text x="0" y="0" font-size="7.44" font-weight="bold" text-anchor="end" transform="scale(1.2 1)" fill="#555" stroke="#555" stroke-width="0">50</text></g>
<g transform="translate(196.51 313.88) scale(0.63 0.72)"><text x="0" y="0" font-size="7.44" font-weight="bold" text-anchor="end" transform="scale(1.2 1)" fill="#555" stroke="#555" stroke-width="0">60</text></g>
<g transform="translate(196.51 321.68) scale(0.63 0.72)"><text x="0" y="0" font-size="7.44" font-weight="bold" text-anchor="end" transform="scale(1.2 1)" fill="#555" stroke="#555" stroke-width="0">70</text></g>
<g transform="translate(196.51 329.48) scale(0.63 0.72)"><text x="0" y="0" font-size="7.44" font-weight="bold" text-anchor="end" transform="scale(1.2 1)" fill="#555" stroke="#555" stroke-width="0">80</text></g>
<g transform="translate(196.51 337.28) scale(0.63 0.72)"><text x="0" y="0" font-size="7.44" font-weight="bold" text-anchor="end" transform="scale(1.2 1)" fill="#555" stroke="#555" stroke-width="0">90</text></g>
<g transform="translate(196.51 345.08) scale(0.63 0.72)"><text x="0" y="0" font-size="7.44" font-weight="bold" text-anchor="end" transform="scale(1.2 1)" fill="#555" stroke="#555" stroke-width="0">100</text></g>
<g transform="translate(196.51 352.88) scale(0.63 0.72)"><text x="0" y="0" font-size="7.44" font-weight="bold" text-anchor="end" transform="scale(1.2 1)" fill="#555" stroke="#555" stroke-width="0">110</text></g>
<g transform="translate(196.51 360.68) scale(0.63 0.72)"><text x="0" y="0" font-size="7.44" font-weight="bold" text-anchor="end" transform="scale(1.2 1)" fill="#555" stroke="#555" stroke-width="0">120</text></g>
<g transform="translate(196.51 368.48) scale(0.63 0.72)"><text x="0" y="0" font-size="7.44" font-weight="bold" text-anchor="end" transform="scale(1.2 1)" fill="#555" stroke="#555" stroke-width="0">130</text></g>
<text x="0" y="0" font-size="9" font-weight="bold" text-anchor="middle" textLength="90.5" lengthAdjust="spacingAndGlyphs" transform="translate(185.33 309.72) scale(0.63 0.72) rotate(-90)" fill="#1a1a1a" stroke="#1a1a1a" stroke-width="0.25">Hearing Level in dBHL</text>
<polyline points="208.5,276.8 227.47,280.7 246.44,280.7 265.41,280.7 284.38,288.5 303.35,311.9 322.32,280.7" fill="none" stroke="#1515e6" stroke-width="1.45" stroke-linejoin="round"/>
<path d="M206.15 274.91L210.85 278.69M206.15 278.69L210.85 274.91" stroke="#1515e6" stroke-width="1.5" fill="none"/>
<path d="M225.12 278.81L229.82 282.59M225.12 282.59L229.82 278.81" stroke="#1515e6" stroke-width="1.5" fill="none"/>
<path d="M244.09 278.81L248.79 282.59M244.09 282.59L248.79 278.81" stroke="#1515e6" stroke-width="1.5" fill="none"/>
<path d="M263.06 278.81L267.76 282.59M263.06 282.59L267.76 278.81" stroke="#1515e6" stroke-width="1.5" fill="none"/>
<path d="M282.03 286.61L286.73 290.39M282.03 290.39L286.73 286.61" stroke="#1515e6" stroke-width="1.5" fill="none"/>
<path d="M301 310.01L305.7 313.79M301 313.79L305.7 310.01" stroke="#1515e6" stroke-width="1.5" fill="none"/>
<path d="M319.97 278.81L324.67 282.59M319.97 282.59L324.67 278.81" stroke="#1515e6" stroke-width="1.5" fill="none"/>
<polyline points="208.5,280.7 227.47,280.7 246.44,276.8 265.41,276.8 284.38,308 303.35,315.8 322.32,292.4" fill="none" stroke="#b52222" stroke-width="1.35" stroke-linejoin="round"/>
<circle cx="208.5" cy="280.7" r="2.3" fill="none" stroke="#b52222" stroke-width="1.55"/>
<circle cx="227.47" cy="280.7" r="2.3" fill="none" stroke="#b52222" stroke-width="1.55"/>
<circle cx="246.44" cy="276.8" r="2.3" fill="none" stroke="#b52222" stroke-width="1.55"/>
<circle cx="265.41" cy="276.8" r="2.3" fill="none" stroke="#b52222" stroke-width="1.55"/>
<circle cx="284.38" cy="308" r="2.3" fill="none" stroke="#b52222" stroke-width="1.55"/>
<circle cx="303.35" cy="315.8" r="2.3" fill="none" stroke="#b52222" stroke-width="1.55"/>
<circle cx="322.32" cy="292.4" r="2.3" fill="none" stroke="#b52222" stroke-width="1.55"/>
<rect x="342.4" y="235.6" width="170.2" height="136.6" fill="none" stroke="#b4b4b4" stroke-width="1"/>
<line x1="369.42" y1="257.3" x2="502.21" y2="257.3" stroke="#b0b0b0" stroke-width="1"/>
<line x1="369.42" y1="265.1" x2="502.21" y2="265.1" stroke="#a4a4a4" stroke-width="1"/>
<line x1="369.42" y1="272.9" x2="502.21" y2="272.9" stroke="#bdbdbd" stroke-width="1"/>
<line x1="369.42" y1="280.7" x2="502.21" y2="280.7" stroke="#bdbdbd" stroke-width="1"/>
<line x1="369.42" y1="288.5" x2="502.21" y2="288.5" stroke="#bdbdbd" stroke-width="1"/>
<line x1="369.42" y1="296.3" x2="502.21" y2="296.3" stroke="#bdbdbd" stroke-width="1"/>
<line x1="369.42" y1="304.1" x2="502.21" y2="304.1" stroke="#bdbdbd" stroke-width="1"/>
<line x1="369.42" y1="311.9" x2="502.21" y2="311.9" stroke="#bdbdbd" stroke-width="1"/>
<line x1="369.42" y1="319.7" x2="502.21" y2="319.7" stroke="#bdbdbd" stroke-width="1"/>
<line x1="369.42" y1="327.5" x2="502.21" y2="327.5" stroke="#bdbdbd" stroke-width="1"/>
<line x1="369.42" y1="335.3" x2="502.21" y2="335.3" stroke="#bdbdbd" stroke-width="1"/>
<line x1="369.42" y1="343.1" x2="502.21" y2="343.1" stroke="#bdbdbd" stroke-width="1"/>
<line x1="369.42" y1="350.9" x2="502.21" y2="350.9" stroke="#bdbdbd" stroke-width="1"/>
<line x1="369.42" y1="358.7" x2="502.21" y2="358.7" stroke="#bdbdbd" stroke-width="1"/>
<line x1="369.42" y1="366.5" x2="502.21" y2="366.5" stroke="#bdbdbd" stroke-width="1"/>
<line x1="369.42" y1="257.3" x2="369.42" y2="366.5" stroke="#bcbcbc" stroke-width="1"/>
<line x1="369.42" y1="264.1" x2="369.42" y2="266.1" stroke="#a4a4a4" stroke-width="1"/>
<line x1="378.9" y1="257.3" x2="378.9" y2="366.5" stroke="#9e9e9e" stroke-width="1"/>
<line x1="378.9" y1="264.1" x2="378.9" y2="266.1" stroke="#a4a4a4" stroke-width="1"/>
<line x1="388.39" y1="257.3" x2="388.39" y2="366.5" stroke="#dadada" stroke-width="1"/>
<line x1="388.39" y1="264.1" x2="388.39" y2="266.1" stroke="#a4a4a4" stroke-width="1"/>
<line x1="397.87" y1="257.3" x2="397.87" y2="366.5" stroke="#9e9e9e" stroke-width="1"/>
<line x1="397.87" y1="264.1" x2="397.87" y2="266.1" stroke="#a4a4a4" stroke-width="1"/>
<line x1="407.36" y1="257.3" x2="407.36" y2="366.5" stroke="#dadada" stroke-width="1"/>
<line x1="407.36" y1="264.1" x2="407.36" y2="266.1" stroke="#a4a4a4" stroke-width="1"/>
<line x1="416.84" y1="257.3" x2="416.84" y2="366.5" stroke="#9e9e9e" stroke-width="1"/>
<line x1="416.84" y1="264.1" x2="416.84" y2="266.1" stroke="#a4a4a4" stroke-width="1"/>
<line x1="426.33" y1="257.3" x2="426.33" y2="366.5" stroke="#dadada" stroke-width="1"/>
<line x1="426.33" y1="264.1" x2="426.33" y2="266.1" stroke="#a4a4a4" stroke-width="1"/>
<line x1="435.81" y1="257.3" x2="435.81" y2="366.5" stroke="#9e9e9e" stroke-width="1"/>
<line x1="435.81" y1="264.1" x2="435.81" y2="266.1" stroke="#a4a4a4" stroke-width="1"/>
<line x1="445.3" y1="257.3" x2="445.3" y2="366.5" stroke="#dadada" stroke-width="1"/>
<line x1="445.3" y1="264.1" x2="445.3" y2="266.1" stroke="#a4a4a4" stroke-width="1"/>
<line x1="454.78" y1="257.3" x2="454.78" y2="366.5" stroke="#9e9e9e" stroke-width="1"/>
<line x1="454.78" y1="264.1" x2="454.78" y2="266.1" stroke="#a4a4a4" stroke-width="1"/>
<line x1="464.27" y1="257.3" x2="464.27" y2="366.5" stroke="#dadada" stroke-width="1"/>
<line x1="464.27" y1="264.1" x2="464.27" y2="266.1" stroke="#a4a4a4" stroke-width="1"/>
<line x1="473.75" y1="257.3" x2="473.75" y2="366.5" stroke="#9e9e9e" stroke-width="1"/>
<line x1="473.75" y1="264.1" x2="473.75" y2="266.1" stroke="#a4a4a4" stroke-width="1"/>
<line x1="483.24" y1="257.3" x2="483.24" y2="366.5" stroke="#dadada" stroke-width="1"/>
<line x1="483.24" y1="264.1" x2="483.24" y2="266.1" stroke="#a4a4a4" stroke-width="1"/>
<line x1="492.72" y1="257.3" x2="492.72" y2="366.5" stroke="#9e9e9e" stroke-width="1"/>
<line x1="492.72" y1="264.1" x2="492.72" y2="266.1" stroke="#a4a4a4" stroke-width="1"/>
<line x1="502.21" y1="257.3" x2="502.21" y2="366.5" stroke="#bcbcbc" stroke-width="1"/>
<line x1="502.21" y1="264.1" x2="502.21" y2="266.1" stroke="#a4a4a4" stroke-width="1"/>
<text x="0" y="0" font-size="8" font-weight="bold" textLength="39.4" lengthAdjust="spacingAndGlyphs" transform="translate(349.16 243.88) scale(0.63 0.72)" fill="#1a1a1a">Right/Left</text>
<text x="0" y="0" font-size="7.5" font-weight="bold" text-anchor="end" textLength="52" lengthAdjust="spacing" transform="translate(506.57 243.57) scale(0.63 0.72)" fill="#1a1a1a" stroke="#1a1a1a" stroke-width="0.1">Frequency(Hz)</text>
<text x="0" y="0" font-size="8.2" text-anchor="middle" transform="translate(378.9 253.56) scale(0.63 0.72)" fill="#222">125</text>
<text x="0" y="0" font-size="8.2" text-anchor="middle" transform="translate(397.87 253.56) scale(0.63 0.72)" fill="#222">250</text>
<text x="0" y="0" font-size="8.2" text-anchor="middle" transform="translate(416.84 253.56) scale(0.63 0.72)" fill="#222">500</text>
<text x="0" y="0" font-size="8.2" text-anchor="middle" transform="translate(435.81 253.56) scale(0.63 0.72)" fill="#222">1k</text>
<text x="0" y="0" font-size="8.2" text-anchor="middle" transform="translate(454.78 253.56) scale(0.63 0.72)" fill="#222">2k</text>
<text x="0" y="0" font-size="8.2" text-anchor="middle" transform="translate(473.75 253.56) scale(0.63 0.72)" fill="#222">4k</text>
<text x="0" y="0" font-size="8.2" text-anchor="middle" transform="translate(492.72 253.56) scale(0.63 0.72)" fill="#222">8k</text>
<g transform="translate(366.92 259.28) scale(0.63 0.72)"><text x="0" y="0" font-size="7.44" font-weight="bold" text-anchor="end" transform="scale(1.2 1)" fill="#555" stroke="#555" stroke-width="0">-10</text></g>
<g transform="translate(366.92 267.08) scale(0.63 0.72)"><text x="0" y="0" font-size="7.44" font-weight="bold" text-anchor="end" transform="scale(1.2 1)" fill="#555" stroke="#555" stroke-width="0">0</text></g>
<g transform="translate(366.92 274.88) scale(0.63 0.72)"><text x="0" y="0" font-size="7.44" font-weight="bold" text-anchor="end" transform="scale(1.2 1)" fill="#555" stroke="#555" stroke-width="0">10</text></g>
<g transform="translate(366.92 282.68) scale(0.63 0.72)"><text x="0" y="0" font-size="7.44" font-weight="bold" text-anchor="end" transform="scale(1.2 1)" fill="#555" stroke="#555" stroke-width="0">20</text></g>
<g transform="translate(366.92 290.48) scale(0.63 0.72)"><text x="0" y="0" font-size="7.44" font-weight="bold" text-anchor="end" transform="scale(1.2 1)" fill="#555" stroke="#555" stroke-width="0">30</text></g>
<g transform="translate(366.92 298.28) scale(0.63 0.72)"><text x="0" y="0" font-size="7.44" font-weight="bold" text-anchor="end" transform="scale(1.2 1)" fill="#555" stroke="#555" stroke-width="0">40</text></g>
<g transform="translate(366.92 306.08) scale(0.63 0.72)"><text x="0" y="0" font-size="7.44" font-weight="bold" text-anchor="end" transform="scale(1.2 1)" fill="#555" stroke="#555" stroke-width="0">50</text></g>
<g transform="translate(366.92 313.88) scale(0.63 0.72)"><text x="0" y="0" font-size="7.44" font-weight="bold" text-anchor="end" transform="scale(1.2 1)" fill="#555" stroke="#555" stroke-width="0">60</text></g>
<g transform="translate(366.92 321.68) scale(0.63 0.72)"><text x="0" y="0" font-size="7.44" font-weight="bold" text-anchor="end" transform="scale(1.2 1)" fill="#555" stroke="#555" stroke-width="0">70</text></g>
<g transform="translate(366.92 329.48) scale(0.63 0.72)"><text x="0" y="0" font-size="7.44" font-weight="bold" text-anchor="end" transform="scale(1.2 1)" fill="#555" stroke="#555" stroke-width="0">80</text></g>
<g transform="translate(366.92 337.28) scale(0.63 0.72)"><text x="0" y="0" font-size="7.44" font-weight="bold" text-anchor="end" transform="scale(1.2 1)" fill="#555" stroke="#555" stroke-width="0">90</text></g>
<g transform="translate(366.92 345.08) scale(0.63 0.72)"><text x="0" y="0" font-size="7.44" font-weight="bold" text-anchor="end" transform="scale(1.2 1)" fill="#555" stroke="#555" stroke-width="0">100</text></g>
<g transform="translate(366.92 352.88) scale(0.63 0.72)"><text x="0" y="0" font-size="7.44" font-weight="bold" text-anchor="end" transform="scale(1.2 1)" fill="#555" stroke="#555" stroke-width="0">110</text></g>
<g transform="translate(366.92 360.68) scale(0.63 0.72)"><text x="0" y="0" font-size="7.44" font-weight="bold" text-anchor="end" transform="scale(1.2 1)" fill="#555" stroke="#555" stroke-width="0">120</text></g>
<g transform="translate(366.92 368.48) scale(0.63 0.72)"><text x="0" y="0" font-size="7.44" font-weight="bold" text-anchor="end" transform="scale(1.2 1)" fill="#555" stroke="#555" stroke-width="0">130</text></g>
<text x="0" y="0" font-size="9" font-weight="bold" text-anchor="middle" textLength="90.5" lengthAdjust="spacingAndGlyphs" transform="translate(355.73 309.72) scale(0.63 0.72) rotate(-90)" fill="#1a1a1a" stroke="#1a1a1a" stroke-width="0.25">Hearing Level in dBHL</text>
<polyline points="378.9,272.9 397.87,272.9 416.84,276.8 435.81,276.8 454.78,280.7 473.75,292.4 492.72,280.7" fill="none" stroke="#1515e6" stroke-width="1.45" stroke-linejoin="round"/>
<path d="M376.55 271.01L381.25 274.79M376.55 274.79L381.25 271.01" stroke="#1515e6" stroke-width="1.5" fill="none"/>
<path d="M395.52 271.01L400.22 274.79M395.52 274.79L400.22 271.01" stroke="#1515e6" stroke-width="1.5" fill="none"/>
<path d="M414.49 274.91L419.19 278.69M414.49 278.69L419.19 274.91" stroke="#1515e6" stroke-width="1.5" fill="none"/>
<path d="M433.46 274.91L438.16 278.69M433.46 278.69L438.16 274.91" stroke="#1515e6" stroke-width="1.5" fill="none"/>
<path d="M452.43 278.81L457.13 282.59M452.43 282.59L457.13 278.81" stroke="#1515e6" stroke-width="1.5" fill="none"/>
<path d="M471.4 290.51L476.1 294.29M471.4 294.29L476.1 290.51" stroke="#1515e6" stroke-width="1.5" fill="none"/>
<path d="M490.37 278.81L495.07 282.59M490.37 282.59L495.07 278.81" stroke="#1515e6" stroke-width="1.5" fill="none"/>
<polyline points="378.9,272.9 397.87,272.9 416.84,276.8 435.81,280.7 454.78,280.7 473.75,288.5 492.72,288.5" fill="none" stroke="#b52222" stroke-width="1.35" stroke-linejoin="round"/>
<circle cx="378.9" cy="272.9" r="2.3" fill="none" stroke="#b52222" stroke-width="1.55"/>
<circle cx="397.87" cy="272.9" r="2.3" fill="none" stroke="#b52222" stroke-width="1.55"/>
<circle cx="416.84" cy="276.8" r="2.3" fill="none" stroke="#b52222" stroke-width="1.55"/>
<circle cx="435.81" cy="280.7" r="2.3" fill="none" stroke="#b52222" stroke-width="1.55"/>
<circle cx="454.78" cy="280.7" r="2.3" fill="none" stroke="#b52222" stroke-width="1.55"/>
<circle cx="473.75" cy="288.5" r="2.3" fill="none" stroke="#b52222" stroke-width="1.55"/>
<circle cx="492.72" cy="288.5" r="2.3" fill="none" stroke="#b52222" stroke-width="1.55"/>
<rect x="512.6" y="235.6" width="170.3" height="136.6" fill="none" stroke="#b4b4b4" stroke-width="1"/>
<line x1="539.82" y1="257.3" x2="672.61" y2="257.3" stroke="#b0b0b0" stroke-width="1"/>
<line x1="539.82" y1="265.1" x2="672.61" y2="265.1" stroke="#a4a4a4" stroke-width="1"/>
<line x1="539.82" y1="272.9" x2="672.61" y2="272.9" stroke="#bdbdbd" stroke-width="1"/>
<line x1="539.82" y1="280.7" x2="672.61" y2="280.7" stroke="#bdbdbd" stroke-width="1"/>
<line x1="539.82" y1="288.5" x2="672.61" y2="288.5" stroke="#bdbdbd" stroke-width="1"/>
<line x1="539.82" y1="296.3" x2="672.61" y2="296.3" stroke="#bdbdbd" stroke-width="1"/>
<line x1="539.82" y1="304.1" x2="672.61" y2="304.1" stroke="#bdbdbd" stroke-width="1"/>
<line x1="539.82" y1="311.9" x2="672.61" y2="311.9" stroke="#bdbdbd" stroke-width="1"/>
<line x1="539.82" y1="319.7" x2="672.61" y2="319.7" stroke="#bdbdbd" stroke-width="1"/>
<line x1="539.82" y1="327.5" x2="672.61" y2="327.5" stroke="#bdbdbd" stroke-width="1"/>
<line x1="539.82" y1="335.3" x2="672.61" y2="335.3" stroke="#bdbdbd" stroke-width="1"/>
<line x1="539.82" y1="343.1" x2="672.61" y2="343.1" stroke="#bdbdbd" stroke-width="1"/>
<line x1="539.82" y1="350.9" x2="672.61" y2="350.9" stroke="#bdbdbd" stroke-width="1"/>
<line x1="539.82" y1="358.7" x2="672.61" y2="358.7" stroke="#bdbdbd" stroke-width="1"/>
<line x1="539.82" y1="366.5" x2="672.61" y2="366.5" stroke="#bdbdbd" stroke-width="1"/>
<line x1="539.82" y1="257.3" x2="539.82" y2="366.5" stroke="#bcbcbc" stroke-width="1"/>
<line x1="539.82" y1="264.1" x2="539.82" y2="266.1" stroke="#a4a4a4" stroke-width="1"/>
<line x1="549.3" y1="257.3" x2="549.3" y2="366.5" stroke="#9e9e9e" stroke-width="1"/>
<line x1="549.3" y1="264.1" x2="549.3" y2="266.1" stroke="#a4a4a4" stroke-width="1"/>
<line x1="558.79" y1="257.3" x2="558.79" y2="366.5" stroke="#dadada" stroke-width="1"/>
<line x1="558.79" y1="264.1" x2="558.79" y2="266.1" stroke="#a4a4a4" stroke-width="1"/>
<line x1="568.27" y1="257.3" x2="568.27" y2="366.5" stroke="#9e9e9e" stroke-width="1"/>
<line x1="568.27" y1="264.1" x2="568.27" y2="266.1" stroke="#a4a4a4" stroke-width="1"/>
<line x1="577.76" y1="257.3" x2="577.76" y2="366.5" stroke="#dadada" stroke-width="1"/>
<line x1="577.76" y1="264.1" x2="577.76" y2="266.1" stroke="#a4a4a4" stroke-width="1"/>
<line x1="587.24" y1="257.3" x2="587.24" y2="366.5" stroke="#9e9e9e" stroke-width="1"/>
<line x1="587.24" y1="264.1" x2="587.24" y2="266.1" stroke="#a4a4a4" stroke-width="1"/>
<line x1="596.73" y1="257.3" x2="596.73" y2="366.5" stroke="#dadada" stroke-width="1"/>
<line x1="596.73" y1="264.1" x2="596.73" y2="266.1" stroke="#a4a4a4" stroke-width="1"/>
<line x1="606.21" y1="257.3" x2="606.21" y2="366.5" stroke="#9e9e9e" stroke-width="1"/>
<line x1="606.21" y1="264.1" x2="606.21" y2="266.1" stroke="#a4a4a4" stroke-width="1"/>
<line x1="615.7" y1="257.3" x2="615.7" y2="366.5" stroke="#dadada" stroke-width="1"/>
<line x1="615.7" y1="264.1" x2="615.7" y2="266.1" stroke="#a4a4a4" stroke-width="1"/>
<line x1="625.18" y1="257.3" x2="625.18" y2="366.5" stroke="#9e9e9e" stroke-width="1"/>
<line x1="625.18" y1="264.1" x2="625.18" y2="266.1" stroke="#a4a4a4" stroke-width="1"/>
<line x1="634.67" y1="257.3" x2="634.67" y2="366.5" stroke="#dadada" stroke-width="1"/>
<line x1="634.67" y1="264.1" x2="634.67" y2="266.1" stroke="#a4a4a4" stroke-width="1"/>
<line x1="644.15" y1="257.3" x2="644.15" y2="366.5" stroke="#9e9e9e" stroke-width="1"/>
<line x1="644.15" y1="264.1" x2="644.15" y2="266.1" stroke="#a4a4a4" stroke-width="1"/>
<line x1="653.64" y1="257.3" x2="653.64" y2="366.5" stroke="#dadada" stroke-width="1"/>
<line x1="653.64" y1="264.1" x2="653.64" y2="266.1" stroke="#a4a4a4" stroke-width="1"/>
<line x1="663.12" y1="257.3" x2="663.12" y2="366.5" stroke="#9e9e9e" stroke-width="1"/>
<line x1="663.12" y1="264.1" x2="663.12" y2="266.1" stroke="#a4a4a4" stroke-width="1"/>
<line x1="672.61" y1="257.3" x2="672.61" y2="366.5" stroke="#bcbcbc" stroke-width="1"/>
<line x1="672.61" y1="264.1" x2="672.61" y2="266.1" stroke="#a4a4a4" stroke-width="1"/>
<text x="0" y="0" font-size="8" font-weight="bold" textLength="39.4" lengthAdjust="spacingAndGlyphs" transform="translate(519.56 243.88) scale(0.63 0.72)" fill="#1a1a1a">Right/Left</text>
<text x="0" y="0" font-size="7.5" font-weight="bold" text-anchor="end" textLength="52" lengthAdjust="spacing" transform="translate(676.97 243.57) scale(0.63 0.72)" fill="#1a1a1a" stroke="#1a1a1a" stroke-width="0.1">Frequency(Hz)</text>
<text x="0" y="0" font-size="8.2" text-anchor="middle" transform="translate(549.3 253.56) scale(0.63 0.72)" fill="#222">125</text>
<text x="0" y="0" font-size="8.2" text-anchor="middle" transform="translate(568.27 253.56) scale(0.63 0.72)" fill="#222">250</text>
<text x="0" y="0" font-size="8.2" text-anchor="middle" transform="translate(587.24 253.56) scale(0.63 0.72)" fill="#222">500</text>
<text x="0" y="0" font-size="8.2" text-anchor="middle" transform="translate(606.21 253.56) scale(0.63 0.72)" fill="#222">1k</text>
<text x="0" y="0" font-size="8.2" text-anchor="middle" transform="translate(625.18 253.56) scale(0.63 0.72)" fill="#222">2k</text>
<text x="0" y="0" font-size="8.2" text-anchor="middle" transform="translate(644.15 253.56) scale(0.63 0.72)" fill="#222">4k</text>
<text x="0" y="0" font-size="8.2" text-anchor="middle" transform="translate(663.12 253.56) scale(0.63 0.72)" fill="#222">8k</text>
<g transform="translate(537.32 259.28) scale(0.63 0.72)"><text x="0" y="0" font-size="7.44" font-weight="bold" text-anchor="end" transform="scale(1.2 1)" fill="#555" stroke="#555" stroke-width="0">-10</text></g>
<g transform="translate(537.32 267.08) scale(0.63 0.72)"><text x="0" y="0" font-size="7.44" font-weight="bold" text-anchor="end" transform="scale(1.2 1)" fill="#555" stroke="#555" stroke-width="0">0</text></g>
<g transform="translate(537.32 274.88) scale(0.63 0.72)"><text x="0" y="0" font-size="7.44" font-weight="bold" text-anchor="end" transform="scale(1.2 1)" fill="#555" stroke="#555" stroke-width="0">10</text></g>
<g transform="translate(537.32 282.68) scale(0.63 0.72)"><text x="0" y="0" font-size="7.44" font-weight="bold" text-anchor="end" transform="scale(1.2 1)" fill="#555" stroke="#555" stroke-width="0">20</text></g>
<g transform="translate(537.32 290.48) scale(0.63 0.72)"><text x="0" y="0" font-size="7.44" font-weight="bold" text-anchor="end" transform="scale(1.2 1)" fill="#555" stroke="#555" stroke-width="0">30</text></g>
<g transform="translate(537.32 298.28) scale(0.63 0.72)"><text x="0" y="0" font-size="7.44" font-weight="bold" text-anchor="end" transform="scale(1.2 1)" fill="#555" stroke="#555" stroke-width="0">40</text></g>
<g transform="translate(537.32 306.08) scale(0.63 0.72)"><text x="0" y="0" font-size="7.44" font-weight="bold" text-anchor="end" transform="scale(1.2 1)" fill="#555" stroke="#555" stroke-width="0">50</text></g>
<g transform="translate(537.32 313.88) scale(0.63 0.72)"><text x="0" y="0" font-size="7.44" font-weight="bold" text-anchor="end" transform="scale(1.2 1)" fill="#555" stroke="#555" stroke-width="0">60</text></g>
<g transform="translate(537.32 321.68) scale(0.63 0.72)"><text x="0" y="0" font-size="7.44" font-weight="bold" text-anchor="end" transform="scale(1.2 1)" fill="#555" stroke="#555" stroke-width="0">70</text></g>
<g transform="translate(537.32 329.48) scale(0.63 0.72)"><text x="0" y="0" font-size="7.44" font-weight="bold" text-anchor="end" transform="scale(1.2 1)" fill="#555" stroke="#555" stroke-width="0">80</text></g>
<g transform="translate(537.32 337.28) scale(0.63 0.72)"><text x="0" y="0" font-size="7.44" font-weight="bold" text-anchor="end" transform="scale(1.2 1)" fill="#555" stroke="#555" stroke-width="0">90</text></g>
<g transform="translate(537.32 345.08) scale(0.63 0.72)"><text x="0" y="0" font-size="7.44" font-weight="bold" text-anchor="end" transform="scale(1.2 1)" fill="#555" stroke="#555" stroke-width="0">100</text></g>
<g transform="translate(537.32 352.88) scale(0.63 0.72)"><text x="0" y="0" font-size="7.44" font-weight="bold" text-anchor="end" transform="scale(1.2 1)" fill="#555" stroke="#555" stroke-width="0">110</text></g>
<g transform="translate(537.32 360.68) scale(0.63 0.72)"><text x="0" y="0" font-size="7.44" font-weight="bold" text-anchor="end" transform="scale(1.2 1)" fill="#555" stroke="#555" stroke-width="0">120</text></g>
<g transform="translate(537.32 368.48) scale(0.63 0.72)"><text x="0" y="0" font-size="7.44" font-weight="bold" text-anchor="end" transform="scale(1.2 1)" fill="#555" stroke="#555" stroke-width="0">130</text></g>
<text x="0" y="0" font-size="9" font-weight="bold" text-anchor="middle" textLength="90.5" lengthAdjust="spacingAndGlyphs" transform="translate(526.13 309.72) scale(0.63 0.72) rotate(-90)" fill="#1a1a1a" stroke="#1a1a1a" stroke-width="0.25">Hearing Level in dBHL</text>
<polyline points="549.3,276.8 568.27,280.7 587.24,284.6 606.21,288.5 625.18,300.2 644.15,308 663.12,280.7" fill="none" stroke="#1515e6" stroke-width="1.45" stroke-linejoin="round"/>
<path d="M546.95 274.91L551.65 278.69M546.95 278.69L551.65 274.91" stroke="#1515e6" stroke-width="1.5" fill="none"/>
<path d="M565.92 278.81L570.62 282.59M565.92 282.59L570.62 278.81" stroke="#1515e6" stroke-width="1.5" fill="none"/>
<path d="M584.89 282.71L589.59 286.49M584.89 286.49L589.59 282.71" stroke="#1515e6" stroke-width="1.5" fill="none"/>
<path d="M603.86 286.61L608.56 290.39M603.86 290.39L608.56 286.61" stroke="#1515e6" stroke-width="1.5" fill="none"/>
<path d="M622.83 298.31L627.53 302.09M622.83 302.09L627.53 298.31" stroke="#1515e6" stroke-width="1.5" fill="none"/>
<path d="M641.8 306.11L646.5 309.89M641.8 309.89L646.5 306.11" stroke="#1515e6" stroke-width="1.5" fill="none"/>
<path d="M660.77 278.81L665.47 282.59M660.77 282.59L665.47 278.81" stroke="#1515e6" stroke-width="1.5" fill="none"/>
<polyline points="549.3,284.6 568.27,284.6 587.24,280.7 606.21,288.5 625.18,300.2 644.15,315.8 663.12,308" fill="none" stroke="#b52222" stroke-width="1.35" stroke-linejoin="round"/>
<circle cx="549.3" cy="284.6" r="2.3" fill="none" stroke="#b52222" stroke-width="1.55"/>
<circle cx="568.27" cy="284.6" r="2.3" fill="none" stroke="#b52222" stroke-width="1.55"/>
<circle cx="587.24" cy="280.7" r="2.3" fill="none" stroke="#b52222" stroke-width="1.55"/>
<circle cx="606.21" cy="288.5" r="2.3" fill="none" stroke="#b52222" stroke-width="1.55"/>
<circle cx="625.18" cy="300.2" r="2.3" fill="none" stroke="#b52222" stroke-width="1.55"/>
<circle cx="644.15" cy="315.8" r="2.3" fill="none" stroke="#b52222" stroke-width="1.55"/>
<circle cx="663.12" cy="308" r="2.3" fill="none" stroke="#b52222" stroke-width="1.55"/>
<text x="12.8" y="21.9" font-size="14.6" font-weight="bold" fill="#111">A</text>
<text x="330.5" y="22" font-size="15" font-weight="bold" fill="#111">C</text>
<text x="0" y="0" font-size="15.2" font-weight="bold" fill="#111" transform="translate(12.9 220.6) scale(0.88 1)">B</text>
<text x="158" y="209.8" font-size="13.3" textLength="42" lengthAdjust="spacingAndGlyphs" fill="#1e1e1e" stroke="#1e1e1e" stroke-width="0.25">IV-2, M</text>
<text x="478.2" y="208.4" font-size="13.3" textLength="43.8" lengthAdjust="spacingAndGlyphs" fill="#1e1e1e" stroke="#1e1e1e" stroke-width="0.25">IV-21, F</text>
<text x="60.3" y="389.9" font-size="13.3" textLength="43.4" lengthAdjust="spacingAndGlyphs" fill="#1e1e1e" stroke="#1e1e1e" stroke-width="0.25">III-3, M</text>
<text x="228.7" y="389.9" font-size="13.3" textLength="42.6" lengthAdjust="spacingAndGlyphs" fill="#1e1e1e" stroke="#1e1e1e" stroke-width="0.25">III-5, M</text>
<text x="397.3" y="389.9" font-size="13.3" textLength="44" lengthAdjust="spacingAndGlyphs" fill="#1e1e1e" stroke="#1e1e1e" stroke-width="0.25">III-14, F</text>
<text x="571.6" y="389.9" font-size="13.3" textLength="42.6" lengthAdjust="spacingAndGlyphs" fill="#1e1e1e" stroke="#1e1e1e" stroke-width="0.25">IV-6, M</text>
</svg>
</body></html>
